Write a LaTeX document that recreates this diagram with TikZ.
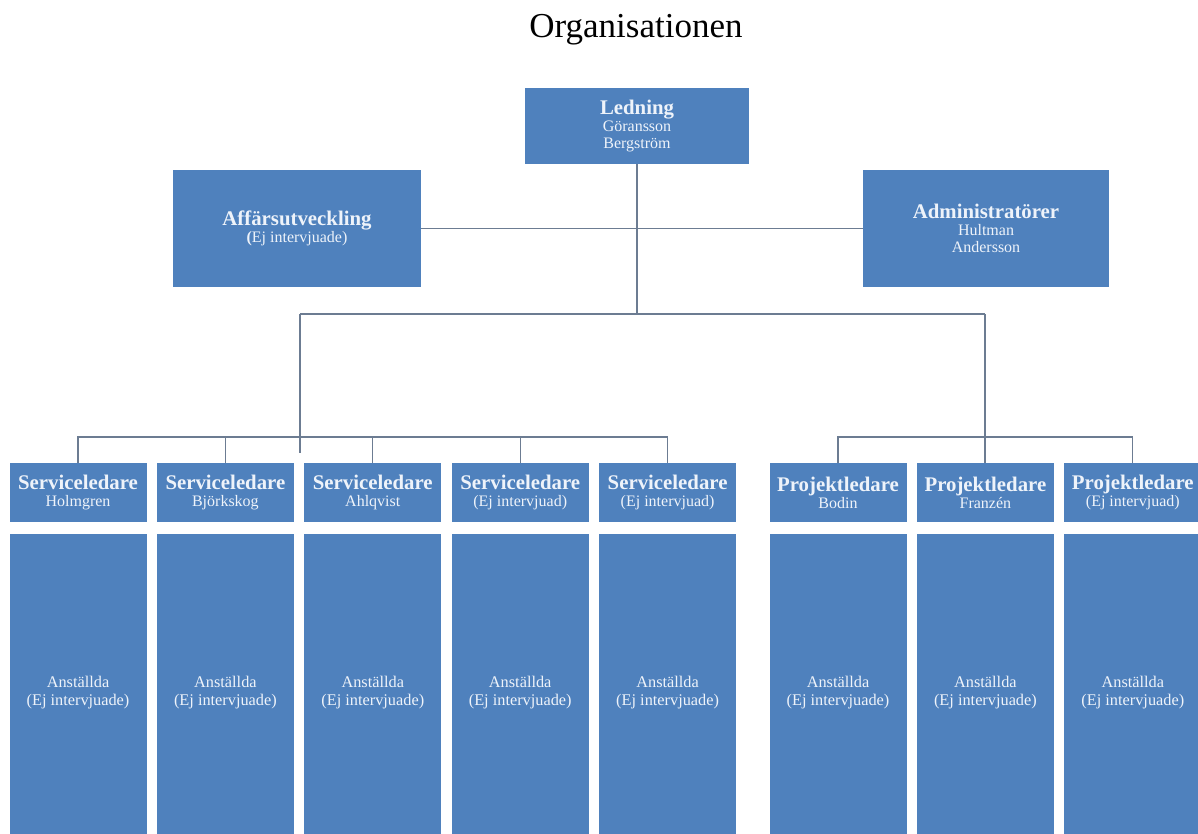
\documentclass[tikz,border=0pt]{standalone}
\usepackage{fontspec}
\setmainfont{Liberation Serif}
\usetikzlibrary{positioning}

\definecolor{orgblue}{RGB}{79,129,189}
\definecolor{orgtext}{RGB}{238,243,250}
\definecolor{orgline}{RGB}{108,124,146}

\newcommand{\boxhead}[1]{{\fontsize{20.8}{18}\selectfont\bfseries #1}}

\tikzset{
  unit/.style={fill=orgblue,text=orgtext,inner sep=0pt,align=center,
    font=\fontsize{16}{17}\selectfont},
  head/.style={unit,minimum width=137pt,minimum height=59pt},
  staff/.style={unit,minimum width=137pt,minimum height=300pt,
    font=\fontsize{16.3}{18}\selectfont,text height=45pt},
  link/.style={draw=orgline,line width=1.1pt}
}

\begin{document}
\begin{tikzpicture}[x=1pt,y=1pt,node distance=10pt]
  \useasboundingbox (0,0) rectangle (1198,-834);
  \node[anchor=base,font=\fontsize{35}{35}\selectfont] (title) at (636,-38)
    {Organisationen};

  % management level
  \node[unit,minimum width=224pt,minimum height=76pt] (lead) at (637,-126)
    {\boxhead{Ledning}\\Göransson\\Bergström};
  \node[unit,minimum width=248pt,minimum height=117pt] (dev) at (297,-228.5)
    {\boxhead{Affärsutveckling}\\\textbf{(}Ej intervjuade)};
  \node[unit,minimum width=246pt,minimum height=117pt] (admin) at (986,-228.5)
    {\boxhead{Administratörer}\\Hultman\\Andersson};

  % service and project leaders
  \node[head] (s1) at (78,-492.5) {\boxhead{Serviceledare}\\Holmgren};
  \node[head,right=of s1] (s2) {\boxhead{Serviceledare}\\Björkskog};
  \node[head,right=of s2] (s3) {\boxhead{Serviceledare}\\Ahlqvist};
  \node[head,right=of s3] (s4) {\boxhead{Serviceledare}\\(Ej intervjuad)};
  \node[head,right=of s4] (s5) {\boxhead{Serviceledare}\\(Ej intervjuad)};
  \node[head] (p1) at (838,-492.5) {\boxhead{Projektledare}\\Bodin};
  \node[head,right=of p1] (p2) {\boxhead{Projektledare}\\Franzén};
  \node[head,right=of p2] (p3) {\boxhead{Projektledare}\\(Ej intervjuad)};

  % staff under each leader
  \node[staff,below=12pt of s1] (a1) {Anställda\\(Ej intervjuade)};
  \node[staff,below=12pt of s2] (a2) {Anställda\\(Ej intervjuade)};
  \node[staff,below=12pt of s3] (a3) {Anställda\\(Ej intervjuade)};
  \node[staff,below=12pt of s4] (a4) {Anställda\\(Ej intervjuade)};
  \node[staff,below=12pt of s5] (a5) {Anställda\\(Ej intervjuade)};
  \node[staff,below=12pt of p1] (b1) {Anställda\\(Ej intervjuade)};
  \node[staff,below=12pt of p2] (b2) {Anställda\\(Ej intervjuade)};
  \node[staff,below=12pt of p3] (b3) {Anställda\\(Ej intervjuade)};

  % connectors
  \coordinate (hubL) at (300,-314);
  \coordinate (hubR) at (985,-314);
  \coordinate (busS) at (0,-437);
  \draw[link] (lead) -- (lead |- hubL);
  \draw[link] (dev) -- (admin);
  \draw[link] (hubL) -- (hubR);
  \draw[link] (hubL) -- ++(0,-139);
  \draw[link] (s1.north) -- (s1.north |- busS) -- (s5.north |- busS) -- (s5.north);
  \draw[link] (s2) -- (s2 |- busS);
  \draw[link] (s3) -- (s3 |- busS);
  \draw[link] (s4) -- (s4 |- busS);
  \draw[link] (hubR) -- (hubR |- p2.north);
  \draw[link] (p1.north) -- (p1.north |- busS) -- (p3.north |- busS) -- (p3.north);
\end{tikzpicture}
\end{document}
